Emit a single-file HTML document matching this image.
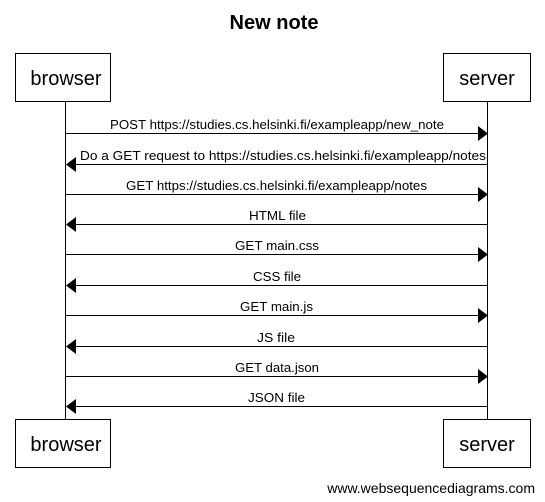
<!DOCTYPE html>
<html><head><style>html,body{margin:0;padding:0;background:#fff}svg{display:block}</style></head><body>
<svg width="545" height="502" xmlns="http://www.w3.org/2000/svg" font-family="Liberation Sans, Arial, sans-serif">
<rect width="545" height="502" fill="#fff"/>
<text x="274" y="29" font-size="20" font-weight="bold" text-anchor="middle">New note</text>
<g fill="#fff" stroke="#000" stroke-width="1">
<rect x="15.5" y="53.5" width="95" height="48"/>
<rect x="443.5" y="53.5" width="87" height="48"/>
<rect x="15.5" y="419.5" width="95" height="48"/>
<rect x="443.5" y="419.5" width="87" height="48"/>
</g>
<g font-size="20" text-anchor="middle">
<text x="66" y="85">browser</text>
<text x="487" y="85">server</text>
<text x="66" y="451">browser</text>
<text x="487" y="451">server</text>
</g>
<g stroke="#000" stroke-width="1">
<line x1="65.5" y1="102" x2="65.5" y2="419"/>
<line x1="487.5" y1="102" x2="487.5" y2="419"/>
</g>
<g stroke="#000" stroke-width="1" font-size="13">
<line x1="66" y1="133.5" x2="479" y2="133.5"/><polygon points="478,126 488,133.5 478,141" stroke="none"/>
<line x1="75" y1="164.5" x2="487" y2="164.5"/><polygon points="76,157 66,164.5 76,172" stroke="none"/>
<line x1="66" y1="194.5" x2="479" y2="194.5"/><polygon points="478,187 488,194.5 478,202" stroke="none"/>
<line x1="75" y1="224.5" x2="487" y2="224.5"/><polygon points="76,217 66,224.5 76,232" stroke="none"/>
<line x1="66" y1="254.5" x2="479" y2="254.5"/><polygon points="478,247 488,254.5 478,262" stroke="none"/>
<line x1="75" y1="285.5" x2="487" y2="285.5"/><polygon points="76,278 66,285.5 76,293" stroke="none"/>
<line x1="66" y1="315.5" x2="479" y2="315.5"/><polygon points="478,308 488,315.5 478,323" stroke="none"/>
<line x1="75" y1="346.5" x2="487" y2="346.5"/><polygon points="76,339 66,346.5 76,354" stroke="none"/>
<line x1="66" y1="376.5" x2="479" y2="376.5"/><polygon points="478,369 488,376.5 478,384" stroke="none"/>
<line x1="75" y1="406.5" x2="487" y2="406.5"/><polygon points="76,399 66,406.5 76,414" stroke="none"/>
<g stroke="none">
<text x="110" y="129" textLength="334" lengthAdjust="spacingAndGlyphs">POST https://studies.cs.helsinki.fi/exampleapp/new_note</text>
<text x="80" y="160" textLength="406" lengthAdjust="spacingAndGlyphs">Do a GET request to https://studies.cs.helsinki.fi/exampleapp/notes</text>
<text x="126" y="190" textLength="301" lengthAdjust="spacingAndGlyphs">GET https://studies.cs.helsinki.fi/exampleapp/notes</text>
<text x="249" y="220" textLength="57" lengthAdjust="spacingAndGlyphs">HTML file</text>
<text x="235" y="250" textLength="84" lengthAdjust="spacingAndGlyphs">GET main.css</text>
<text x="253" y="281" textLength="48" lengthAdjust="spacingAndGlyphs">CSS file</text>
<text x="240" y="311" textLength="73" lengthAdjust="spacingAndGlyphs">GET main.js</text>
<text x="257" y="342" textLength="38" lengthAdjust="spacingAndGlyphs">JS file</text>
<text x="235" y="372" textLength="84" lengthAdjust="spacingAndGlyphs">GET data.json</text>
<text x="248" y="402" textLength="57" lengthAdjust="spacingAndGlyphs">JSON file</text>
</g>
</g>
<text x="535" y="493" font-size="14" text-anchor="end">www.websequencediagrams.com</text>
</svg>
</body></html>
